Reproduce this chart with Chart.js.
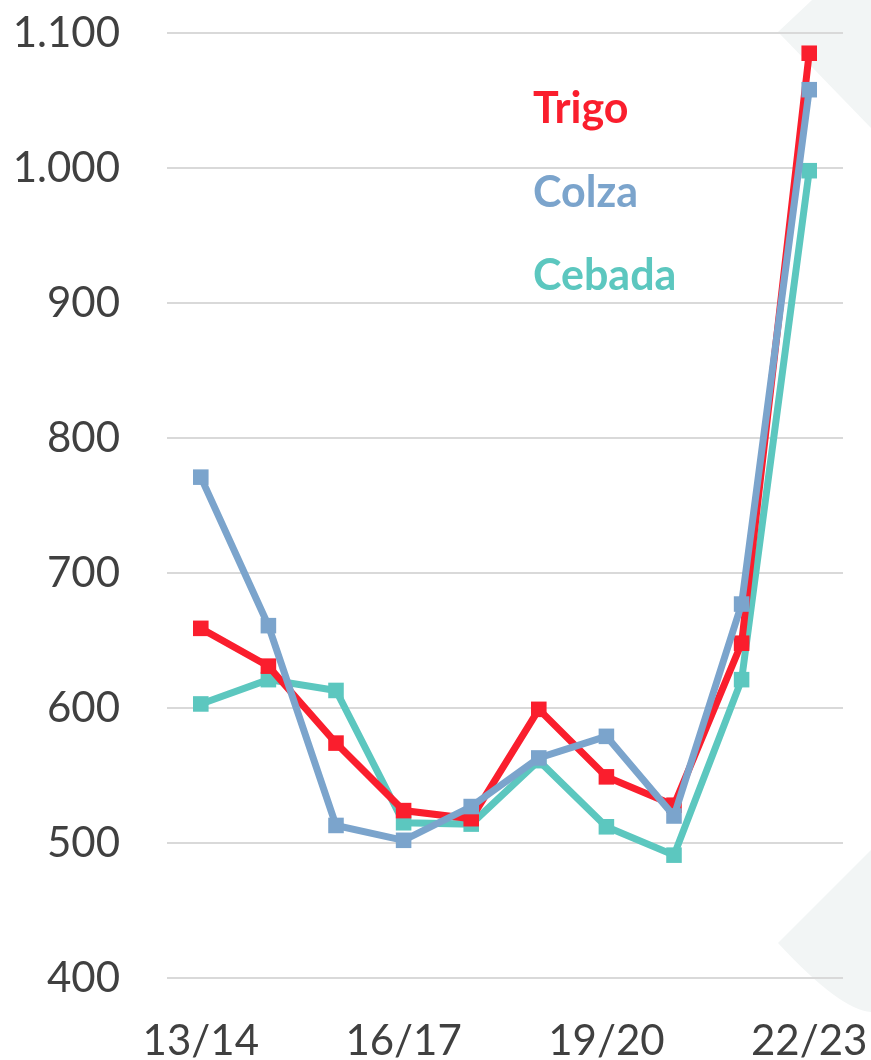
<!DOCTYPE html>
<html>
<head>
<meta charset="utf-8">
<script src="https://cdn.jsdelivr.net/npm/chart.js@4/dist/chart.umd.min.js"></script>
<style>
  html, body { margin: 0; padding: 0; background: #fff; }
  #wrap { width: 871px; height: 1060px; position: relative; }
</style>
</head>
<body>
<div id="wrap"><canvas id="chart" width="871" height="1060"></canvas></div>
<script>
// campañas
const seasons = ["13/14", "14/15", "15/16", "16/17", "17/18", "18/19", "19/20", "20/21", "21/22", "22/23"];

const trigo  = [659, 631, 574, 524, 518, 599, 549, 528, 648, 1085];
const colza  = [771, 661, 513, 502, 527, 563, 579, 520, 677, 1058];
const cebada = [603, 621, 613, 515, 514, 561, 512, 491, 621, 998];

const seriesNames  = ["Trigo", "Colza", "Cebada"];
const seriesColors = ["#fa1e2d", "#7ba4cc", "#5cc7bf"];
// Colza encima, luego Trigo, Cebada debajo
const seriesOrder  = [1, 0, 2];

const yMin = 400, yMax = 1100, yStep = 100;

const fontFamily = "Lato, 'Open Sans', sans-serif";

function fmtThousands(v) {
  return String(v).replace(/\B(?=(\d{3})+(?!\d))/g, ".");
}

function noScalePadding(s) {
  s.paddingTop = 0;
  s.paddingBottom = 0;
  s.paddingLeft = 0;
  s.paddingRight = 0;
}

// fondo gris claro a la derecha (decoración)
const backdrop = {
  id: "backdrop",
  beforeDraw(chart) {
    const ctx = chart.ctx;
    ctx.save();
    ctx.fillStyle = "#f2f5f5";
    ctx.beginPath();
    ctx.moveTo(778, 32);
    ctx.lineTo(812, 0);
    ctx.lineTo(871, 0);
    ctx.lineTo(871, 128);
    ctx.closePath();
    ctx.fill();
    ctx.beginPath();
    ctx.moveTo(871, 850);
    ctx.lineTo(778, 943);
    ctx.quadraticCurveTo(840, 1010, 871, 1012);
    ctx.closePath();
    ctx.fill();
    ctx.restore();
  }
};

// etiquetas de serie dentro del gráfico
const seriesLabels = {
  id: "seriesLabels",
  afterDraw(chart) {
    const ctx = chart.ctx;
    ctx.save();
    ctx.font = "bold 43px " + fontFamily;
    ctx.textAlign = "left";
    ctx.textBaseline = "alphabetic";
    chart.data.datasets.forEach((ds, i) => {
      ctx.fillStyle = ds.borderColor;
      ctx.fillText(ds.label, 533, 123 + i * 83.5);
    });
    ctx.restore();
  }
};

const values = [trigo, colza, cebada];
const datasets = seriesNames.map((name, i) => ({
  label: name,
  data: values[i],
  order: seriesOrder[i],
  borderColor: seriesColors[i],
  backgroundColor: seriesColors[i],
  borderWidth: 7,
  tension: 0,
  pointStyle: "rect",
  pointRadius: 11,
  pointBorderWidth: 0,
  pointHoverRadius: 11,
}));

new Chart(document.getElementById("chart"), {
  type: "line",
  data: { labels: seasons, datasets },
  plugins: [backdrop, seriesLabels],
  options: {
    responsive: false,
    animation: false,
    devicePixelRatio: 1,
    layout: { padding: { top: 33, right: 28, left: 0, bottom: 0 } },
    plugins: {
      legend: { display: false },
      tooltip: { enabled: false },
    },
    scales: {
      x: {
        offset: true,
        grid: { display: false, drawTicks: false },
        border: { display: false },
        afterFit: s => { s.height = 82; noScalePadding(s); },
        ticks: {
          autoSkip: false,
          maxRotation: 0,
          padding: 38,
          color: "#404040",
          font: { family: fontFamily, size: 42 },
          callback: function (v, i) { return i % 3 === 0 ? this.getLabelForValue(v) : ""; },
        },
      },
      y: {
        min: yMin,
        max: yMax,
        grid: { color: "#d9d9d9", lineWidth: 2, drawTicks: false },
        border: { display: false },
        afterFit: s => { s.width = 167; noScalePadding(s); },
        ticks: {
          stepSize: yStep,
          padding: 47,
          color: "#404040",
          font: { family: fontFamily, size: 42 },
          callback: v => fmtThousands(v),
        },
      },
    },
  },
});
</script>
</body>
</html>
